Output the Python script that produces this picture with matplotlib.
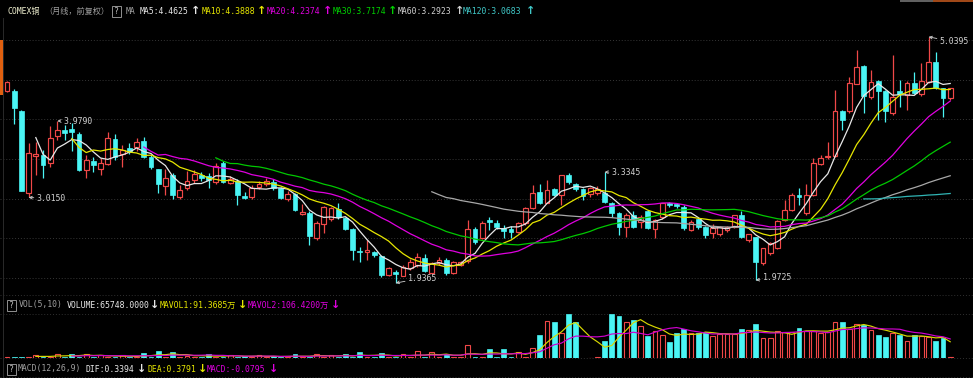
import matplotlib
matplotlib.use('Agg')
import matplotlib.pyplot as plt
import numpy as np
import pandas as pd
from matplotlib.patches import Rectangle

# ---------------- data (monthly COMEX copper, front-adjusted) ----------------
opens = [4.36, 4.36, 4.11, 3.07, 3.54, 3.55, 3.45, 3.79, 3.86, 3.875,
         3.82, 3.36, 3.475, 3.37, 3.44, 3.75, 3.56, 3.635, 3.648, 3.73,
         3.53, 3.37, 3.16, 3.30, 3.017, 3.13, 3.235, 3.30, 3.285, 3.214,
         3.453, 3.20, 3.227, 3.034, 3.017, 3.143, 3.185, 3.214, 3.13, 2.992,
         3.059, 2.803, 2.823, 2.50, 2.677, 2.744, 2.87, 2.756, 2.618, 2.345,
         2.33, 2.33, 2.277, 2.038, 2.08, 2.03, 2.12, 2.17, 2.256, 2.06,
         2.185, 2.227, 2.06, 2.164, 2.21, 2.62, 2.51, 2.73, 2.697, 2.63,
         2.614, 2.584, 2.69, 2.882, 3.08, 2.95, 3.118, 3.046, 3.298, 3.185,
         3.118, 3.06, 3.07, 3.075, 2.95, 2.823, 2.647, 2.794, 2.70, 2.85,
         2.614, 2.77, 2.95, 2.93, 2.90, 2.605, 2.75, 2.647, 2.563, 2.555,
         2.605, 2.647, 2.80, 2.48, 2.513, 2.185, 2.31, 2.374, 2.731, 2.857,
         3.046, 2.82, 3.046, 3.44, 3.52, 3.54, 4.10, 4.10, 4.45, 4.67,
         4.278, 4.487, 4.36, 4.076, 4.36, 4.307, 4.454, 4.32, 4.474, 4.727,
         4.39, 4.265]
highs = [4.48, 4.38, 4.12, 3.70, 3.71, 3.61, 3.91, 3.979, 3.93, 3.95,
         3.84, 3.55, 3.53, 3.51, 3.84, 3.81, 3.675, 3.70, 3.76, 3.78,
         3.55, 3.38, 3.38, 3.32, 3.17, 3.35, 3.36, 3.34, 3.32, 3.45,
         3.48, 3.28, 3.25, 3.08, 3.17, 3.22, 3.26, 3.25, 3.15, 3.10,
         3.07, 2.93, 2.84, 2.72, 2.91, 2.90, 2.949, 2.77, 2.63, 2.39,
         2.479, 2.34, 2.29, 2.14, 2.10, 2.16, 2.24, 2.32, 2.30, 2.20,
         2.26, 2.25, 2.22, 2.22, 2.73, 2.64, 2.72, 2.77, 2.73, 2.67,
         2.65, 2.71, 2.90, 3.17, 3.19, 3.24, 3.14, 3.30, 3.32, 3.20,
         3.13, 3.15, 3.16, 3.3345, 2.96, 2.83, 2.82, 2.84, 2.80, 2.86,
         2.74, 2.95, 2.96, 2.95, 2.92, 2.73, 2.76, 2.66, 2.68, 2.66,
         2.66, 2.80, 2.85, 2.56, 2.52, 2.38, 2.45, 2.73, 2.98, 3.07,
         3.13, 3.18, 3.509, 3.55, 3.718, 4.37, 4.12, 4.53, 4.88, 4.69,
         4.622, 4.50, 4.37, 4.81, 4.496, 4.48, 4.60, 4.71, 5.0395, 4.85,
         4.40, 4.40]
lows = [4.34, 3.94, 3.10, 3.015, 3.30, 3.26, 3.40, 3.74, 3.74, 3.60,
        3.35, 3.26, 3.34, 3.30, 3.42, 3.49, 3.40, 3.56, 3.60, 3.51,
        3.38, 3.07, 3.05, 2.99, 3.00, 3.11, 3.20, 3.22, 3.13, 3.19,
        3.20, 3.18, 2.92, 2.99, 3.00, 3.12, 3.16, 3.11, 2.99, 2.97,
        2.84, 2.79, 2.416, 2.48, 2.57, 2.72, 2.74, 2.60, 2.227, 2.20,
        2.227, 2.27, 2.01, 2.03, 1.9365, 2.02, 2.10, 2.14, 2.08, 2.05,
        2.17, 2.04, 2.05, 2.15, 2.19, 2.43, 2.49, 2.60, 2.62, 2.50,
        2.50, 2.57, 2.67, 2.87, 2.93, 2.94, 3.03, 2.92, 3.19, 3.10,
        2.98, 3.02, 3.04, 2.95, 2.77, 2.54, 2.52, 2.63, 2.63, 2.62,
        2.50, 2.75, 2.90, 2.88, 2.61, 2.59, 2.62, 2.50, 2.50, 2.53,
        2.58, 2.63, 2.50, 2.45, 1.9725, 2.16, 2.29, 2.36, 2.72, 2.84,
        2.92, 2.80, 3.03, 3.43, 3.50, 3.52, 3.865, 4.08, 4.44, 4.084,
        4.26, 3.99, 3.97, 4.05, 4.16, 4.12, 4.32, 4.30, 4.46, 4.38,
        4.03, 4.25]
closes = [4.47, 4.14, 3.10, 3.58, 3.56, 3.42, 3.77, 3.86, 3.83, 3.845,
          3.36, 3.49, 3.42, 3.445, 3.76, 3.52, 3.61, 3.59, 3.72, 3.53,
          3.395, 3.185, 3.257, 3.046, 3.11, 3.227, 3.31, 3.26, 3.235, 3.41,
          3.214, 3.25, 3.046, 3.012, 3.13, 3.185, 3.227, 3.13, 3.005, 3.055,
          2.857, 2.836, 2.533, 2.697, 2.899, 2.882, 2.769, 2.618, 2.353, 2.332,
          2.35, 2.29, 2.038, 2.126, 2.05, 2.14, 2.20, 2.27, 2.092, 2.185,
          2.227, 2.06, 2.205, 2.205, 2.62, 2.46, 2.697, 2.70, 2.647, 2.596,
          2.584, 2.693, 2.882, 3.075, 2.942, 3.11, 3.046, 3.298, 3.214, 3.118,
          3.034, 3.13, 3.12, 2.96, 2.823, 2.647, 2.794, 2.647, 2.77, 2.627,
          2.731, 2.94, 2.92, 2.91, 2.626, 2.71, 2.647, 2.542, 2.626, 2.64,
          2.647, 2.794, 2.513, 2.555, 2.205, 2.374, 2.437, 2.722, 2.857, 3.046,
          3.017, 3.046, 3.453, 3.51, 3.54, 4.10, 3.99, 4.454, 4.664, 4.294,
          4.474, 4.36, 4.11, 4.285, 4.32, 4.462, 4.33, 4.487, 4.727, 4.39,
          4.265, 4.39]
# volume in 万 (10k)
vol_wan = [8.4, 5.6, 8.4, 5.6, 16.8, 8.4, 5.6, 20.7, 8.4, 24.1,
           8.4, 24.1, 5.6, 15.1, 8.4, 5.6, 15.1, 5.6, 8.4, 29.7,
           8.4, 37.5, 8.4, 33.6, 5.6, 11.2, 5.6, 8.4, 24.1, 5.6,
           8.4, 15.1, 8.4, 11.2, 5.6, 15.1, 5.6, 9.5, 5.6, 8.4,
           20.7, 5.6, 8.4, 24.1, 8.4, 15.1, 5.6, 20.7, 8.4, 31.9,
           5.6, 8.4, 29.7, 5.6, 8.4, 20.7, 5.6, 37.5, 8.4, 33.6,
           5.6, 24.1, 5.6, 8.4, 72.8, 8.4, 5.6, 48.7, 5.6, 48.7,
           5.6, 35.3, 8.4, 54.3, 128.8, 207.2, 199.9, 140.0, 246.4, 199.9,
           2.8, 1.7, 3.4, 95.2, 246.4, 235.2, 199.9, 212.8, 179.2, 123.2,
           151.2, 128.8, 89.6, 140.0, 160.7, 140.0, 140.0, 145.6, 123.2, 134.4,
           134.4, 134.4, 160.7, 156.8, 188.7, 110.3, 110.3, 151.2, 145.6, 145.6,
           166.3, 151.2, 151.2, 138.3, 145.6, 201.6, 199.9, 160.7, 190.4, 184.8,
           156.8, 128.8, 119.3, 138.3, 128.8, 96.9, 128.8, 123.2, 117.6, 96.9,
           110.3, 6.5748]
ma_windows = [5, 10, 20, 30, 60, 120]
ma_colors = ['#e8e8e8', '#e6e600', '#e000e0', '#00c800', '#a8a8a8', '#30b4b4']
header_ma = [("MA5:4.4625", '#e8e8e8'), ("MA10:4.3888", '#e6e600'),
             ("MA20:4.2374", '#e000e0'), ("MA30:3.7174", '#00d000'),
             ("MA60:3.2923", '#d0d0d0'), ("MA120:3.0683", '#40c8c8')]
marks = [(7, "3.9790", 'high'), (3, "3.0150", 'low'), (54, "1.9365", 'low'),
         (83, "3.3345", 'high'), (104, "1.9725", 'low'), (128, "5.0395", 'high')]

# ---------------- figure ----------------
W, H = 973, 378
fig = plt.figure(figsize=(W / 100, H / 100), dpi=100, facecolor='black')
MONO = ['DejaVu Sans Mono', 'Noto Sans CJK SC']
FS = 5.9
RED = '#f04848'
CYAN = '#4af5f5'


def rect(top, bottom):
    return [0, 1 - bottom / H, 1, (bottom - top) / H]


def price_at(ypix):
    return 2 + (278 - ypix) / 79.33


o = np.array(opens); h = np.array(highs); l = np.array(lows); c = np.array(closes)
v = np.array(vol_wan)
n = len(o)
x = np.arange(n)
up = c >= o
dn = ~up
xlim = (-7 / 7.2, (W - 7) / 7.2)
bw = 0.68

ax = fig.add_axes(rect(18, 294))
ax.set_facecolor('black')
ax.set_xlim(*xlim)
ax.set_ylim(price_at(294), price_at(18))
ax.axis('off')
for gp in np.arange(2.0, 5.01, 0.5):
    ax.axhline(gp, color='#363636', lw=0.7, ls=(0, (1, 2)), zorder=0)

# wicks
ax.vlines(x[dn], l[dn], h[dn], color=CYAN, lw=0.9, zorder=1)
top_up = np.maximum(o, c)
bot_up = np.minimum(o, c)
ax.vlines(x[up], l[up], bot_up[up], color=RED, lw=0.9, zorder=1)
ax.vlines(x[up], top_up[up], h[up], color=RED, lw=0.9, zorder=1)
# bodies
body = np.maximum(np.abs(c - o), 0.008)
ax.bar(x[up], body[up], bottom=bot_up[up], width=bw, facecolor='black',
       edgecolor=RED, lw=0.85, zorder=2)
ax.bar(x[dn], body[dn], bottom=np.minimum(o, c)[dn], width=bw, facecolor=CYAN,
       edgecolor=CYAN, lw=0.5, zorder=2)

s = pd.Series(c)
for w, col in zip(ma_windows, ma_colors):
    ax.plot(x, s.rolling(w).mean(), color=col, lw=0.9, zorder=3)

offsets = {0: (6, 0), 1: (8, -1), 2: (12, 5), 3: (7, 0), 4: (7, 3), 5: (11, -5)}
for k, (i, lab, kind) in enumerate(marks):
    yv = h[i] if kind == 'high' else l[i]
    ax.annotate(lab, xy=(i, yv), xytext=offsets[k], textcoords='offset pixels',
                ha='left', va='center', color='#d0d0d0', fontsize=FS,
                family=MONO, zorder=5,
                arrowprops=dict(arrowstyle='->', color='#d0d0d0', lw=0.6,
                                shrinkA=0, shrinkB=0, mutation_scale=5))

# volume panel
axv = fig.add_axes(rect(295, 358))
axv.set_facecolor('black')
axv.set_xlim(*xlim)
axv.set_ylim(0, 63 * 5.6)
axv.axis('off')
axv.bar(x[up], v[up], width=bw, facecolor='black', edgecolor=RED, lw=0.8, zorder=2)
axv.bar(x[dn], v[dn], width=bw, facecolor=CYAN, edgecolor=CYAN, lw=0.5, zorder=2)
sv = pd.Series(v)
axv.plot(x, sv.rolling(5).mean(), color='#d8d800', lw=0.85, zorder=3)
axv.plot(x, sv.rolling(10).mean(), color='#d000d0', lw=0.85, zorder=3)
axv.axhline(246.4, color='#303030', lw=0.7, ls=(0, (1, 2)), zorder=0)

# overlay (pixel coordinates) for header texts and frame bits
ov = fig.add_axes([0, 0, 1, 1])
ov.set_xlim(0, W)
ov.set_ylim(H, 0)
ov.axis('off')
ov.patch.set_alpha(0)
for yy in (295, 358, 377):
    ov.plot([0, W], [yy, yy], color='#303030', lw=0.7, ls=(0, (1, 2)))
ov.plot([2.5, 2.5], [18, 378], color='#2a2a2a', lw=0.7)
ov.add_patch(Rectangle((0, 40), 3, 55, color='#e06010', lw=0))
ov.add_patch(Rectangle((900, 0), 33, 2, color='#606060', lw=0))
ov.add_patch(Rectangle((933, 0), 40, 2, color='#a04818', lw=0))


def txt(xp, yp, s_, col):
    ov.text(xp, yp, s_, color=col, fontsize=FS, family=MONO, ha='left', va='center')


def arrow(xp, yp, s_, col):
    ov.text(xp, yp, s_, color=col, fontsize=8, family=['DejaVu Sans'],
            ha='left', va='center', fontweight='bold')


def qbox(xp, yp):
    ov.add_patch(Rectangle((xp, yp - 5.5), 9, 11, fill=False, edgecolor='#909090', lw=0.7))
    ov.text(xp + 4.5, yp, '?', color='#c0c0c0', fontsize=FS, family=MONO, ha='center', va='center')


# header row
txt(7, 11.5, 'COMEX铜', '#f0f0d0')
txt(44, 11.5, '（月线，前复权）', '#a0a0a0')
qbox(112, 11.5)
txt(126, 11.5, 'MA', '#a0a0a0')
hx = [140, 202, 267, 333, 398, 463]
ax_arrow = [191, 257, 323, 388, 455, 526]
for (lab, col), xp, xa in zip(header_ma, hx, ax_arrow):
    txt(xp, 11.5, lab, col)
    arrow(xa, 11.5, '↑', col)

# volume row
qbox(7, 305)
txt(19, 305, 'VOL(5,10)', '#a0a0a0')
txt(67, 305, 'VOLUME:65748.0000', '#e8e8e8'); arrow(150, 305, '↓', '#e8e8e8')
txt(160, 305, 'MAVOL1:91.3685万', '#e6e600'); arrow(238, 305, '↓', '#e6e600')
txt(248, 305, 'MAVOL2:106.4200万', '#e000e0'); arrow(331, 305, '↓', '#e000e0')

# MACD row
qbox(7, 369)
txt(18, 369, 'MACD(12,26,9)', '#a0a0a0')
txt(85, 369, 'DIF:0.3394', '#e8e8e8'); arrow(137, 369, '↓', '#e8e8e8')
txt(147, 369, 'DEA:0.3791', '#e6e600'); arrow(198, 369, '↓', '#e6e600')
txt(207, 369, 'MACD:-0.0795', '#e000e0'); arrow(269, 369, '↓', '#e000e0')

fig.savefig('out.png', dpi=100, facecolor='black')
